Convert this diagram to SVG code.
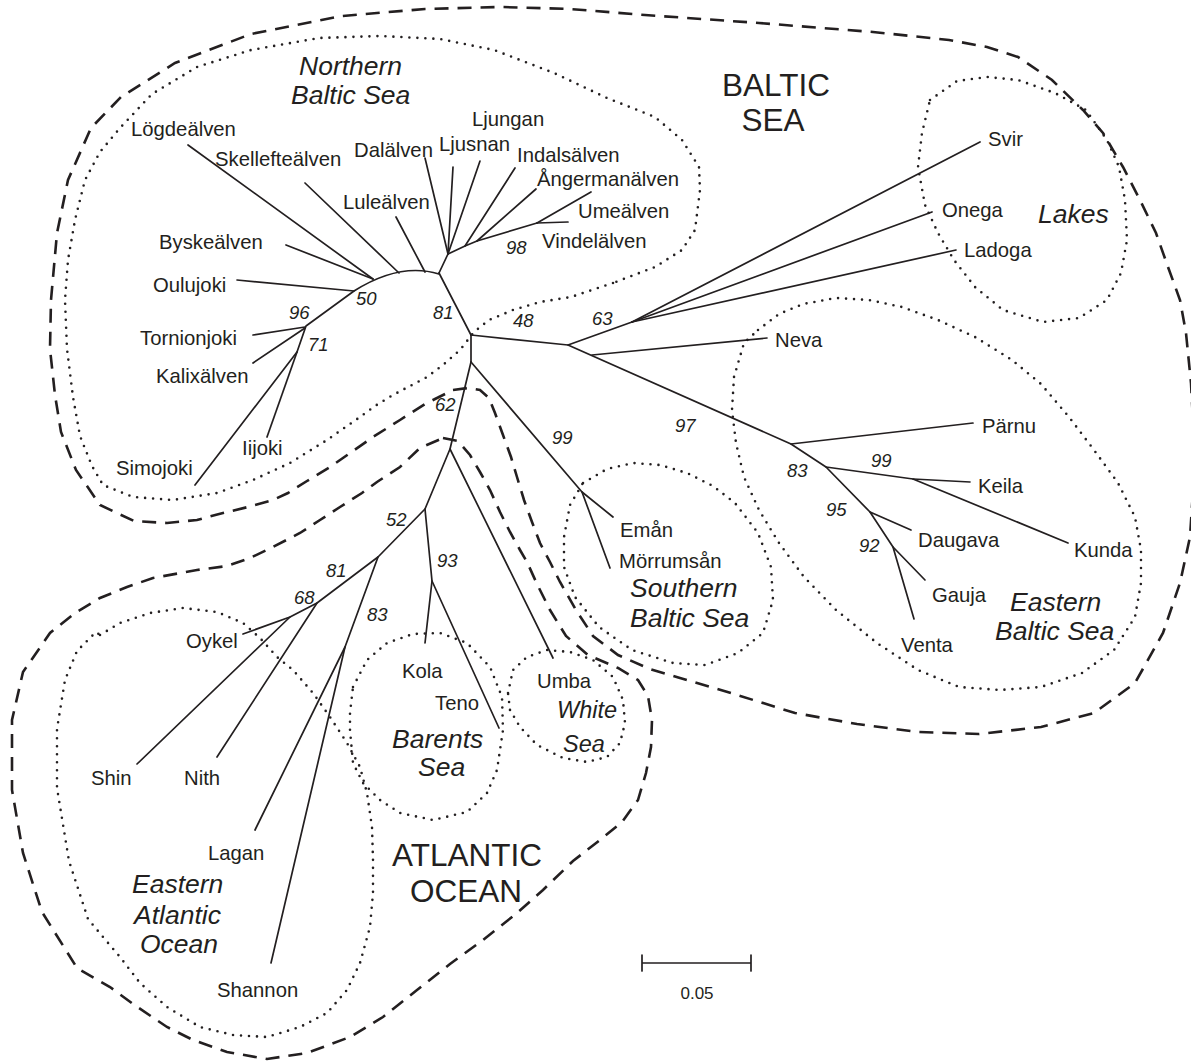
<svg xmlns="http://www.w3.org/2000/svg" width="1191" height="1063" viewBox="0 0 1191 1063">
<style>
.br{stroke:#231f20;stroke-width:1.7;fill:none;stroke-linecap:round;stroke-linejoin:round}
.dash{stroke:#231f20;stroke-width:2.6;fill:none;stroke-dasharray:14 9}
.dot{stroke:#231f20;stroke-width:2.6;fill:none;stroke-dasharray:0 8;stroke-linecap:round;stroke-linejoin:round}
text{font-family:"Liberation Sans",Arial,sans-serif;fill:#231f20}
.lb{font-size:20.3px}
.bs{font-size:18.5px;font-style:italic}
.rg{font-size:26.5px;font-style:italic}
.big{font-size:31.5px}
</style>
<rect width="1191" height="1063" fill="#fff"/>
<g id="outlines">
<path id="baltic-sea" class="dash" d="M453,390 L468,388 L480,390 L489,398 L495,413 L503,435 L511,457 L517,477 L524,500 L532,522 L540,543 L550,562 L560,582 L576,610 L593,636 L618,655 L650,669 L680,678 L734,694 L795,713 L857,724 L918,732 L979,734 L1041,727 L1094,713 L1135,683 L1163,633 L1180,583 L1190,537 L1195,460 L1191,383 L1186,333 L1180,300 L1168,267 L1156,233 L1140,200 L1123,167 L1103,133 L1083,110 L1052,80 L1018,57 L987,47 L949,40 L873,32 L759,23 L645,15 L570,9 L501,7 L425,9 L342,16 L251,34 L175,63 L121,97 L91,128 L68,180 L57,233 L51,300 L50,349 L55,395 L61,432 L76,470 L100,505 L134,521 L167,523 L197,520 L223,513 L248,507 L273,500 L288,493 L307,481 L330,467 L353,451 L373,437 L400,420 L425,404 Z"/>
<path id="atlantic-ocean" class="dash" d="M443,438 L458,441 L470,455 L480,472 L490,490 L500,512 L510,532 L520,550 L527,562 L537,584 L550,610 L566,636 L588,655 L618,668 L638,680 L648,696 L652,720 L651,747 L646,773 L638,800 L622,822 L600,840 L573,861 L543,890 L517,913 L483,940 L450,964 L417,990 L383,1017 L350,1037 L307,1053 L267,1059 L227,1052 L193,1040 L167,1027 L133,1004 L110,987 L77,968 L42,912 L23,853 L12,790 L12,720 L23,672 L50,633 L75,613 L100,598 L127,587 L153,578 L197,570 L227,566 L250,558 L273,547 L300,533 L320,520 L340,507 L362,493 L377,482 L400,467 L420,448 Z"/>
<path id="northern-baltic" class="dot" d="M613,283 L571,297 L540,302 L513,310 L489,320 L474,332 L460,350 L443,365 L427,377 L410,386 L393,395 L375,406 L360,417 L327,440 L290,463 L253,480 L217,493 L173,500 L133,497 L103,485 L92,466 L80,436 L73,397 L67,349 L65,300 L68,260 L75,220 L85,180 L100,152 L120,128 L152,94 L197,67 L251,50 L319,38 L380,36 L440,39 L494,50 L554,73 L607,98 L655,117 L682,140 L699,167 L700,190 L695,230 L682,250 L655,267 Z"/>
<path id="lakes" class="dot" d="M930,100 L957,81 L987,77 L1018,80 L1055,93 L1086,110 L1107,140 L1119,167 L1125,200 L1127,240 L1121,273 L1107,300 L1079,318 L1043,322 L1003,310 L975,287 L954,260 L938,233 L925,205 L918,167 L922,133 Z"/>
<path id="eastern-baltic" class="dot" d="M758,330 L779,314 L803,304 L836,298 L869,300 L902,307 L938,320 L975,337 L1012,360 L1041,384 L1069,417 L1094,450 L1118,483 L1135,517 L1141,550 L1141,583 L1135,617 L1114,650 L1082,673 L1041,687 L1000,690 L959,687 L918,670 L877,643 L836,610 L804,577 L779,543 L759,510 L744,477 L736,443 L732,410 L734,377 L744,343 Z"/>
<path id="southern-baltic" class="dot" d="M583,483 L607,469 L633,463 L660,465 L687,473 L713,486 L735,503 L758,533 L771,567 L773,600 L763,633 L738,653 L705,665 L673,663 L632,650 L599,627 L575,597 L564,567 L564,537 L570,505 Z"/>
<path id="barents" class="dot" d="M353,687 L367,660 L387,643 L413,634 L440,633 L467,643 L490,667 L502,697 L503,730 L497,770 L487,793 L467,812 L433,820 L400,813 L380,800 L363,783 L353,763 L350,730 L350,713 Z"/>
<path id="white" class="dot" d="M508,693 L513,670 L527,657 L547,650 L570,652 L593,660 L613,677 L623,700 L625,723 L620,743 L607,757 L587,762 L563,758 L537,745 L520,727 L510,710 Z"/>
<path id="eastern-atlantic" class="dot" d="M100,635 L120,623 L150,613 L183,608 L217,612 L243,623 L260,638 L277,657 L293,670 L313,693 L330,717 L347,743 L360,767 L367,793 L372,827 L373,860 L373,893 L370,927 L360,963 L347,990 L327,1013 L300,1027 L267,1037 L233,1035 L200,1027 L167,1007 L140,983 L120,957 L103,937 L88,919 L69,861 L57,788 L57,729 L65,680 L77,651 L96,632 Z"/>
</g>
<g id="connectors">
<path class="br" d="M471,335 L471,362"/>
<path class="br" d="M471,335 L439,273"/>
<path class="br" d="M439,274 Q400,262 354,291 L306,326 L297,352 L195,485"/>
<path class="br" d="M396,217 L425,272"/>
<path class="br" d="M305,183 L399,273"/>
<path class="br" d="M188,145 L373,279"/>
<path class="br" d="M286,245 L373,279"/>
<path class="br" d="M237,280 L354,291"/>
<path class="br" d="M253,335 L305,327"/>
<path class="br" d="M253,363 L305,328"/>
<path class="br" d="M297,352 L267,437"/>
<path class="br" d="M439,273 L448,254 L465,246 L477,241 L537,223"/>
<path class="br" d="M425,158 L448,254"/>
<path class="br" d="M453,167 L448,254"/>
<path class="br" d="M480,161 L448,254"/>
<path class="br" d="M515,168 L465,246"/>
<path class="br" d="M536,189 L477,241"/>
<path class="br" d="M537,223 L591,192"/>
<path class="br" d="M537,223 L568,222"/>
<path class="br" d="M471,335 L568,345 L632,322"/>
<path class="br" d="M632,322 L980,142"/>
<path class="br" d="M632,322 L932,212"/>
<path class="br" d="M632,322 L956,250"/>
<path class="br" d="M568,345 L791,444 L826,467 L870,512 L893,547 L914,619"/>
<path class="br" d="M592,355 L767,338"/>
<path class="br" d="M791,444 L973,423"/>
<path class="br" d="M826,467 L913,479 L1068,543"/>
<path class="br" d="M913,479 L970,482"/>
<path class="br" d="M870,512 L911,530"/>
<path class="br" d="M893,547 L925,580"/>
<path class="br" d="M471,362 L450,449 L425,509 L432,581 L425,643"/>
<path class="br" d="M471,362 L582,492 L613,517"/>
<path class="br" d="M582,492 L610,568"/>
<path class="br" d="M450,449 L553,658"/>
<path class="br" d="M432,581 L499,728"/>
<path class="br" d="M425,509 L378,557 L317,603 L290,617 L243,634"/>
<path class="br" d="M290,617 L137,764"/>
<path class="br" d="M317,603 L217,757"/>
<path class="br" d="M378,557 L345,647 L255,830"/>
<path class="br" d="M345,647 L271,963"/>
</g>
<g id="support">
<text class="bs" x="356" y="305">50</text>
<text class="bs" x="289" y="319">96</text>
<text class="bs" x="308" y="351">71</text>
<text class="bs" x="433" y="319">81</text>
<text class="bs" x="506" y="254">98</text>
<text class="bs" x="513" y="327">48</text>
<text class="bs" x="592" y="325">63</text>
<text class="bs" x="435" y="411">62</text>
<text class="bs" x="552" y="444">99</text>
<text class="bs" x="675" y="432">97</text>
<text class="bs" x="787" y="477">83</text>
<text class="bs" x="871" y="467">99</text>
<text class="bs" x="826" y="516">95</text>
<text class="bs" x="859" y="552">92</text>
<text class="bs" x="386" y="526">52</text>
<text class="bs" x="437" y="567">93</text>
<text class="bs" x="326" y="577">81</text>
<text class="bs" x="294" y="604">68</text>
<text class="bs" x="367" y="621">83</text>
</g>
<g id="n-logdealven"><text class="lb" x="131" y="136">Lögdeälven</text></g>
<g id="n-skelleftealven"><text class="lb" x="215" y="166">Skellefteälven</text></g>
<g id="n-dalalven"><text class="lb" x="354" y="157">Dalälven</text></g>
<g id="n-ljusnan"><text class="lb" x="439" y="151">Ljusnan</text></g>
<g id="n-ljungan"><text class="lb" x="472" y="126">Ljungan</text></g>
<g id="n-indalsalven"><text class="lb" x="517" y="162">Indalsälven</text></g>
<g id="n-angermanalven"><text class="lb" x="537" y="186">Ångermanälven</text></g>
<g id="n-umealven"><text class="lb" x="578" y="218">Umeälven</text></g>
<g id="n-vindelalven"><text class="lb" x="542" y="248">Vindelälven</text></g>
<g id="n-lulealven"><text class="lb" x="343" y="209">Luleälven</text></g>
<g id="n-byskealven"><text class="lb" x="159" y="249">Byskeälven</text></g>
<g id="n-oulujoki"><text class="lb" x="153" y="292">Oulujoki</text></g>
<g id="n-tornionjoki"><text class="lb" x="140" y="345">Tornionjoki</text></g>
<g id="n-kalixalven"><text class="lb" x="156" y="383">Kalixälven</text></g>
<g id="n-iijoki"><text class="lb" x="242" y="455">Iijoki</text></g>
<g id="n-simojoki"><text class="lb" x="116" y="475">Simojoki</text></g>
<g id="n-svir"><text class="lb" x="988" y="146">Svir</text></g>
<g id="n-onega"><text class="lb" x="942" y="217">Onega</text></g>
<g id="n-ladoga"><text class="lb" x="964" y="257">Ladoga</text></g>
<g id="n-neva"><text class="lb" x="775" y="347">Neva</text></g>
<g id="n-parnu"><text class="lb" x="982" y="433">Pärnu</text></g>
<g id="n-keila"><text class="lb" x="978" y="493">Keila</text></g>
<g id="n-kunda"><text class="lb" x="1074" y="557">Kunda</text></g>
<g id="n-daugava"><text class="lb" x="918" y="547">Daugava</text></g>
<g id="n-gauja"><text class="lb" x="932" y="602">Gauja</text></g>
<g id="n-venta"><text class="lb" x="901" y="652">Venta</text></g>
<g id="n-eman"><text class="lb" x="620" y="537">Emån</text></g>
<g id="n-morrumsan"><text class="lb" x="619" y="568">Mörrumsån</text></g>
<g id="n-umba"><text class="lb" x="537" y="688">Umba</text></g>
<g id="n-kola"><text class="lb" x="402" y="678">Kola</text></g>
<g id="n-teno"><text class="lb" x="435" y="710">Teno</text></g>
<g id="n-oykel"><text class="lb" x="186" y="648">Oykel</text></g>
<g id="n-shin"><text class="lb" x="91" y="785">Shin</text></g>
<g id="n-nith"><text class="lb" x="184" y="785">Nith</text></g>
<g id="n-lagan"><text class="lb" x="208" y="860">Lagan</text></g>
<g id="n-shannon"><text class="lb" x="217" y="997">Shannon</text></g>
<g id="r-northern"><text class="rg" x="299" y="75">Northern</text><text class="rg" x="291" y="104">Baltic Sea</text></g>
<g id="r-lakes"><text class="rg" x="1038" y="223">Lakes</text></g>
<g id="r-southern"><text class="rg" x="630" y="597">Southern</text><text class="rg" x="630" y="627">Baltic Sea</text></g>
<g id="r-eastern"><text class="rg" x="1010" y="611">Eastern</text><text class="rg" x="995" y="640">Baltic Sea</text></g>
<g id="r-white"><text class="rg" style="font-size:23.5px" x="557" y="718">White</text><text class="rg" style="font-size:23.5px" x="563" y="752">Sea</text></g>
<g id="r-barents"><text class="rg" x="392" y="748">Barents</text><text class="rg" x="418" y="776">Sea</text></g>
<g id="r-eatlantic"><text class="rg" x="132" y="893">Eastern</text><text class="rg" x="134" y="924">Atlantic</text><text class="rg" x="140" y="953">Ocean</text></g>
<g id="r-baltic"><text class="big" x="776" y="96" text-anchor="middle">BALTIC</text><text class="big" x="773" y="131" text-anchor="middle">SEA</text></g>
<g id="r-atlantic"><text class="big" x="392" y="866">ATLANTIC</text><text class="big" x="410" y="902">OCEAN</text></g>
<g id="scale">
<path class="br" d="M642,963 L751,963 M642,955 L642,971 M751,955 L751,971"/>
<text x="697" y="999" text-anchor="middle" style="font-size:17px">0.05</text>
</g>
</svg>
